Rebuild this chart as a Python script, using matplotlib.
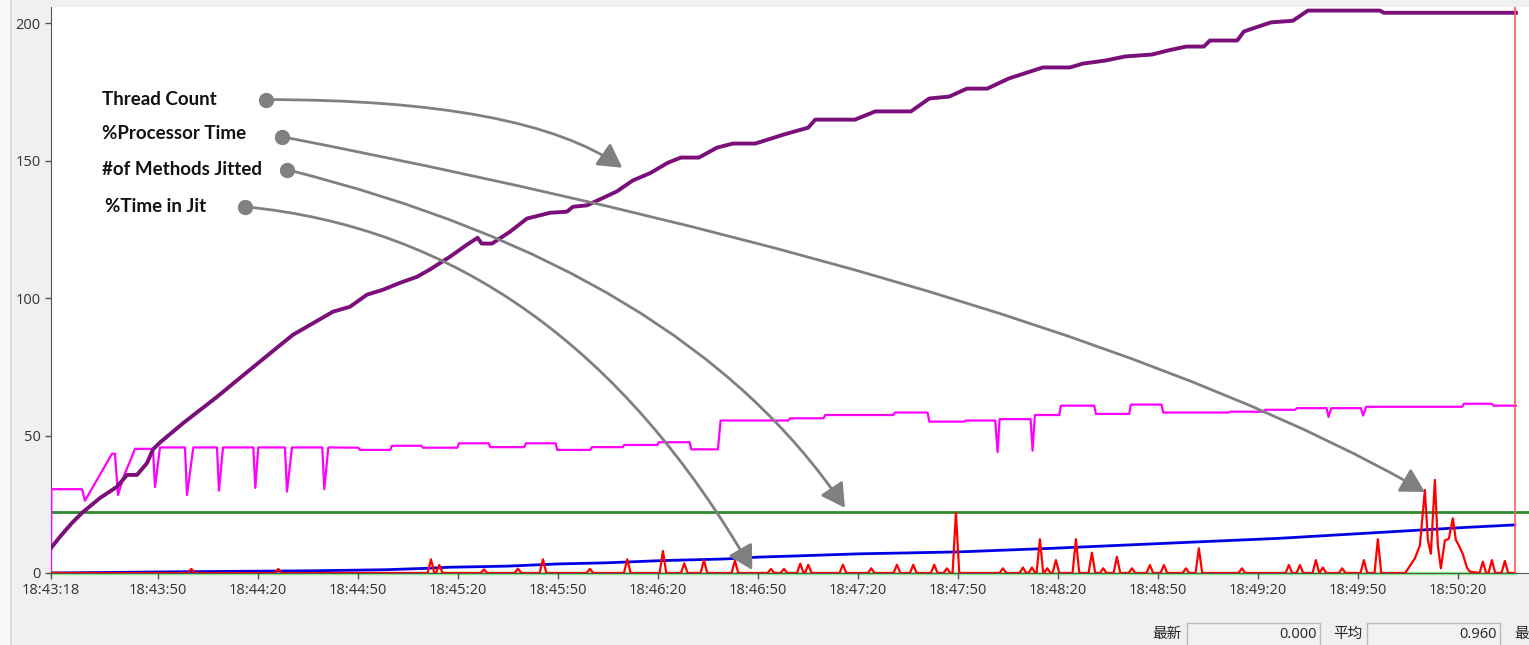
import numpy as np
import matplotlib
matplotlib.use("Agg")
import matplotlib.pyplot as plt
from matplotlib.patches import Rectangle

W, H = 1529, 645

# 时间轴: 18:43:18 之后的秒数
tick_pos = [0, 32, 62, 92, 122, 152, 182, 212, 242, 272, 302, 332, 362, 392, 422, 452]
tick_labels = ["18:43:18", "18:43:50", "18:44:20", "18:44:50", "18:45:20", "18:45:50",
               "18:46:20", "18:46:50", "18:47:20", "18:47:50", "18:48:20", "18:48:50",
               "18:49:20", "18:49:50", "18:50:20", "18:50:50"]
y_ticks = [0, 50, 100, 150, 200]
now_t = 439.2  # 红色当前时间线

# Thread Count
thread_t = [0.0, 2.7, 6.2, 9.6, 14.7, 19.8, 22.8, 25.8, 28.8, 30.6, 32.7, 39.7, 49.8, 56.7,
            67.8, 72.6, 84.6, 89.7, 94.8, 99.6, 104.7, 109.8, 113.6, 119.7, 124.8, 128.0,
            129.2, 132.3, 137.7, 142.8, 149.7, 154.8, 156.6, 160.8, 164.7, 169.8, 174.6,
            179.7, 185.2, 189.0, 194.4, 199.8, 204.6, 211.3, 219.9, 227.2, 229.3, 241.2,
            247.3, 258.0, 263.5, 269.5, 274.8, 280.9, 287.4, 297.6, 305.7, 309.6, 316.3,
            322.3, 330.3, 335.2, 340.6, 345.9, 347.7, 355.9, 357.9, 366.0, 372.6, 377.1,
            398.7, 399.9, 439.5]
thread_v = [9.1, 13.2, 18.1, 22.2, 27.3, 31.4, 35.7, 35.7, 40.0, 45.0, 47.5, 54.6, 64.1, 71.0,
            82.0, 86.7, 95.1, 96.9, 101.3, 103.1, 105.6, 107.8, 110.4, 115.1, 119.5, 122.0,
            119.9, 119.9, 124.2, 129.0, 131.1, 131.5, 133.3, 133.8, 136.0, 138.9, 142.9,
            145.5, 149.4, 151.2, 151.2, 154.8, 156.3, 156.3, 159.6, 162.1, 165.0, 165.0,
            168.0, 168.0, 172.7, 173.4, 176.3, 176.3, 180.0, 184.0, 184.0, 185.4, 186.5,
            188.0, 188.7, 190.2, 191.6, 191.6, 193.8, 193.8, 197.1, 200.4, 201.0, 204.7,
            204.7, 203.9, 203.9]

# %Processor Time
cpu_t = [0, 0.1, 9.3, 10.2, 18.3, 19.2, 20.1, 22.2, 23.7, 25.2, 30.6, 31.2, 32.7, 40.2, 40.8,
         42.7, 49.8, 50.4, 51.6, 60.7, 61.3, 62.2, 70.2, 70.8, 72.3, 81.4, 82.0, 83.2, 92.2,
         92.7, 101.8, 102.3, 111.1, 111.6, 121.9, 122.4, 131.3, 131.8, 142.0, 142.5, 151.4,
         151.9, 161.8, 162.3, 171.5, 172.0, 181.9, 182.4, 191.6, 192.1, 200.1, 200.9, 221.2,
         221.7, 231.8, 232.3, 252.7, 253.2, 263.0, 263.5, 274.0, 274.5, 283.3, 284.0, 284.6,
         293.9, 294.5, 295.2, 302.5, 303.0, 313.0, 313.5, 323.5, 324.0, 333.2, 333.7, 353.3,
         353.8, 363.7, 364.2, 373.3, 373.8, 382.7, 383.3, 384.1, 393.0, 393.7, 394.6, 423.4,
         423.9, 432.2, 432.8, 439.5]
cpu_v = [0, 30.5, 30.5, 26.3, 43.4, 43.4, 28.4, 36.4, 40.6, 45.2, 45.2, 31.3, 45.7, 45.7, 28.4,
         45.7, 45.7, 30.0, 45.7, 45.7, 31.0, 45.7, 45.7, 29.6, 45.7, 45.7, 30.5, 45.7, 45.6,
         44.8, 44.8, 46.3, 46.3, 45.6, 45.6, 47.2, 47.2, 45.8, 45.8, 47.2, 47.2,
         44.8, 44.8, 45.8, 45.8, 46.6, 46.6, 47.6, 47.6, 45.0, 45.0, 55.5, 55.5,
         56.3, 56.3, 57.5, 57.5, 58.4, 58.4, 55.1, 55.1, 55.5, 55.5, 44.0, 56.0,
         56.0, 44.5, 57.5, 57.5, 60.9, 60.9, 57.9, 57.9, 61.3, 61.3, 58.4, 58.4,
         58.7, 58.7, 59.4, 59.4, 60.0, 60.0, 56.8, 60.0, 60.0, 57.3, 60.5, 60.5,
         61.6, 61.6, 60.9, 60.9]

# #of Methods Jitted
jit_t = [0, 42.7, 77.8, 100.6, 112.6, 119.5, 137.1, 152.1, 166.5, 183.0, 201.9, 212.7, 223.3,
         233.1, 243.1, 256.5, 272.7, 300.6, 334.2, 368.2, 402.0, 424.5, 439.2]
jit_v = [0, 0.5, 0.8, 1.2, 1.7, 2.1, 2.5, 3.3, 3.7, 4.5, 5.1, 5.8, 6.2,
         6.6, 7.0, 7.3, 7.7, 9.0, 10.8, 12.6, 15.0, 16.6, 17.5]

# %Time in Jit: 单个尖峰 (时间, 高度)
spike_t = [42.1, 68.2, 114.0, 116.5, 129.9, 140.1, 147.6, 161.7, 172.9, 183.6, 190.0, 195.9,
           205.2, 216.0, 219.9, 224.8, 227.2, 237.6, 246.1, 253.8, 258.7, 265.0, 268.8, 271.5,
           285.6, 291.6, 294.3, 296.7, 298.9, 301.5, 307.5, 312.3, 315.7, 319.8, 324.3, 329.7,
           333.9, 340.5, 344.4, 357.3, 371.4, 374.7, 379.5, 381.6, 387.4, 393.9, 398.1,
           429.6, 432.3, 436.2]
spike_h = [1.5, 1.5, 5.0, 2.9, 1.3, 1.6, 5.0, 1.5, 5.0, 8.0, 3.5, 4.7,
           4.5, 1.5, 1.5, 3.4, 3.0, 3.0, 1.7, 3.0, 3.0, 3.0, 1.7, 22.0,
           1.7, 2.0, 2.0, 12.3, 1.7, 4.7, 12.3, 7.4, 1.7, 5.9, 1.7, 2.9,
           2.9, 1.7, 9.0, 1.7, 2.9, 2.9, 4.7, 2.0, 1.7, 4.7, 12.3,
           4.1, 4.7, 4.4]
# 18:50 附近的密集区
burst_t = [406.3, 409.2, 410.7, 412.2, 413.1, 414.0, 415.2, 416.1, 417.0, 418.2, 419.4, 420.6,
           421.5, 422.4, 423.6, 424.8, 425.7]
burst_v = [0, 5.3, 10.0, 30.2, 12.0, 7.0, 33.9, 10.0, 1.7, 11.8, 12.5, 19.9,
           12.0, 10.0, 6.9, 2.0, 0.5]

green_level = 22.3

# 标注
ann_labels = ["Thread Count", "%Processor Time", "#of Methods Jitted", "%Time in Jit"]
ann_text_xy = [(15.3, 172.3), (15.3, 159.9), (15.3, 146.8), (16.2, 133.3)]
ann_dot_xy = [(64.5, 172.3), (69.3, 158.8), (70.8, 146.8), (58.2, 133.3)]
ann_tip_xy = [(171.4, 147.5), (412.2, 29.5), (238.2, 23.7), (210.4, 1.1)]
ann_angles = [(0, -35), (-11, -30), (-14, -56), (-5.5, -60)]

# 红色尖峰折线
pts = [(0.0, 0.0), (now_t, 0.0)]
for t, h in zip(spike_t, spike_h):
    pts += [(t - 1.0, 0.0), (t, h), (t + 1.0, 0.0)]
pts += list(zip(burst_t, burst_v))
pts.sort()
red_t = [p[0] for p in pts]
red_v = [p[1] for p in pts]

# 绘图
fig = plt.figure(figsize=(W / 100, H / 100), dpi=100, facecolor="#f0f0f0")
x0 = 51.0
ax = fig.add_axes([x0 / W, 72 / H, 1 - x0 / W, 566 / H])
ax.set_facecolor("white")

ax.plot([0, now_t], [0, 0], color="#90ee90", lw=2.5, clip_on=False, zorder=1)
ax.axhline(green_level, color="#2f8a2f", lw=2, zorder=2)
ax.plot(jit_t, jit_v, color="#0000e6", lw=2, zorder=3)
ax.plot(red_t, red_v, color="#ff0000", lw=1.6, zorder=4)
ax.plot(cpu_t, cpu_v, color="#ff00ff", lw=1.6, zorder=3)
ax.plot(thread_t, thread_v, color="#7a0f7a", lw=2.8, zorder=5)
ax.axvline(now_t, color="#ff5a5a", lw=1.2, zorder=5)

for lab, txy, dxy, pxy, (aA, aB) in zip(ann_labels, ann_text_xy, ann_dot_xy, ann_tip_xy, ann_angles):
    ax.text(txy[0], txy[1], lab, fontsize=13.5, fontweight="bold", family="Lato",
            va="center", ha="left", color="#111111", zorder=7)
    ax.annotate("", xy=pxy, xytext=dxy,
                arrowprops=dict(arrowstyle="-|>,head_length=0.8,head_width=0.45",
                                color="#808080", lw=2, shrinkA=0, shrinkB=0,
                                mutation_scale=18,
                                connectionstyle=f"angle3,angleA={aA},angleB={aB}"), zorder=6)
    ax.plot(dxy[0], dxy[1], "o", color="#808080", ms=10, zorder=7)

ax.set_xticks(tick_pos)
ax.set_xticklabels(tick_labels)
ax.set_yticks(y_ticks)
# set_xticks 会扩展范围, 所以最后再设
ax.set_xlim(0, (W - x0) / 3.333)
ax.set_ylim(0, 206)
ax.tick_params(axis="both", colors="#555555", labelcolor="#333333", labelsize=10.5,
               length=4, width=1, direction="out")
for lb in ax.get_xticklabels() + ax.get_yticklabels():
    lb.set_family("Open Sans")
ax.tick_params(axis="x", pad=3)
ax.spines["top"].set_visible(False)
ax.spines["right"].set_visible(False)
ax.spines["left"].set_color("#555555")
ax.spines["bottom"].set_color("#555555")

# 左侧窗口边
fig.patches.append(Rectangle((0, 0), 10 / W, 1, transform=fig.transFigure,
                             facecolor="#f8f8f8", edgecolor="none"))
fig.patches.append(Rectangle((10 / W, 0), 2 / W, 1, transform=fig.transFigure,
                             facecolor="#dcdcdc", edgecolor="none"))

# 底部统计框
for bx0, bx1 in [(1187, 1320), (1367, 1500)]:
    fig.patches.append(Rectangle((bx0 / W, -0.01), (bx1 - bx0) / W, (645 - 623) / H + 0.01,
                                 transform=fig.transFigure, facecolor="#f2f2f2",
                                 edgecolor="#b9b9b9", lw=1))
cjk = ["Noto Sans CJK SC", "DejaVu Sans"]
fig.text(1182 / W, 1 - 634 / H, "最新", family=cjk, fontsize=10.5, ha="right", va="center", color="#222222")
fig.text(1317 / W, 1 - 634 / H, "0.000", family="Open Sans", fontsize=10.5, ha="right", va="center", color="#222222")
fig.text(1363 / W, 1 - 634 / H, "平均", family=cjk, fontsize=10.5, ha="right", va="center", color="#222222")
fig.text(1497 / W, 1 - 634 / H, "0.960", family="Open Sans", fontsize=10.5, ha="right", va="center", color="#222222")
fig.text(1514 / W, 1 - 634 / H, "最", family=cjk, fontsize=10.5, ha="left", va="center", color="#222222")

plt.savefig("out.png", dpi=100, facecolor=fig.get_facecolor())
